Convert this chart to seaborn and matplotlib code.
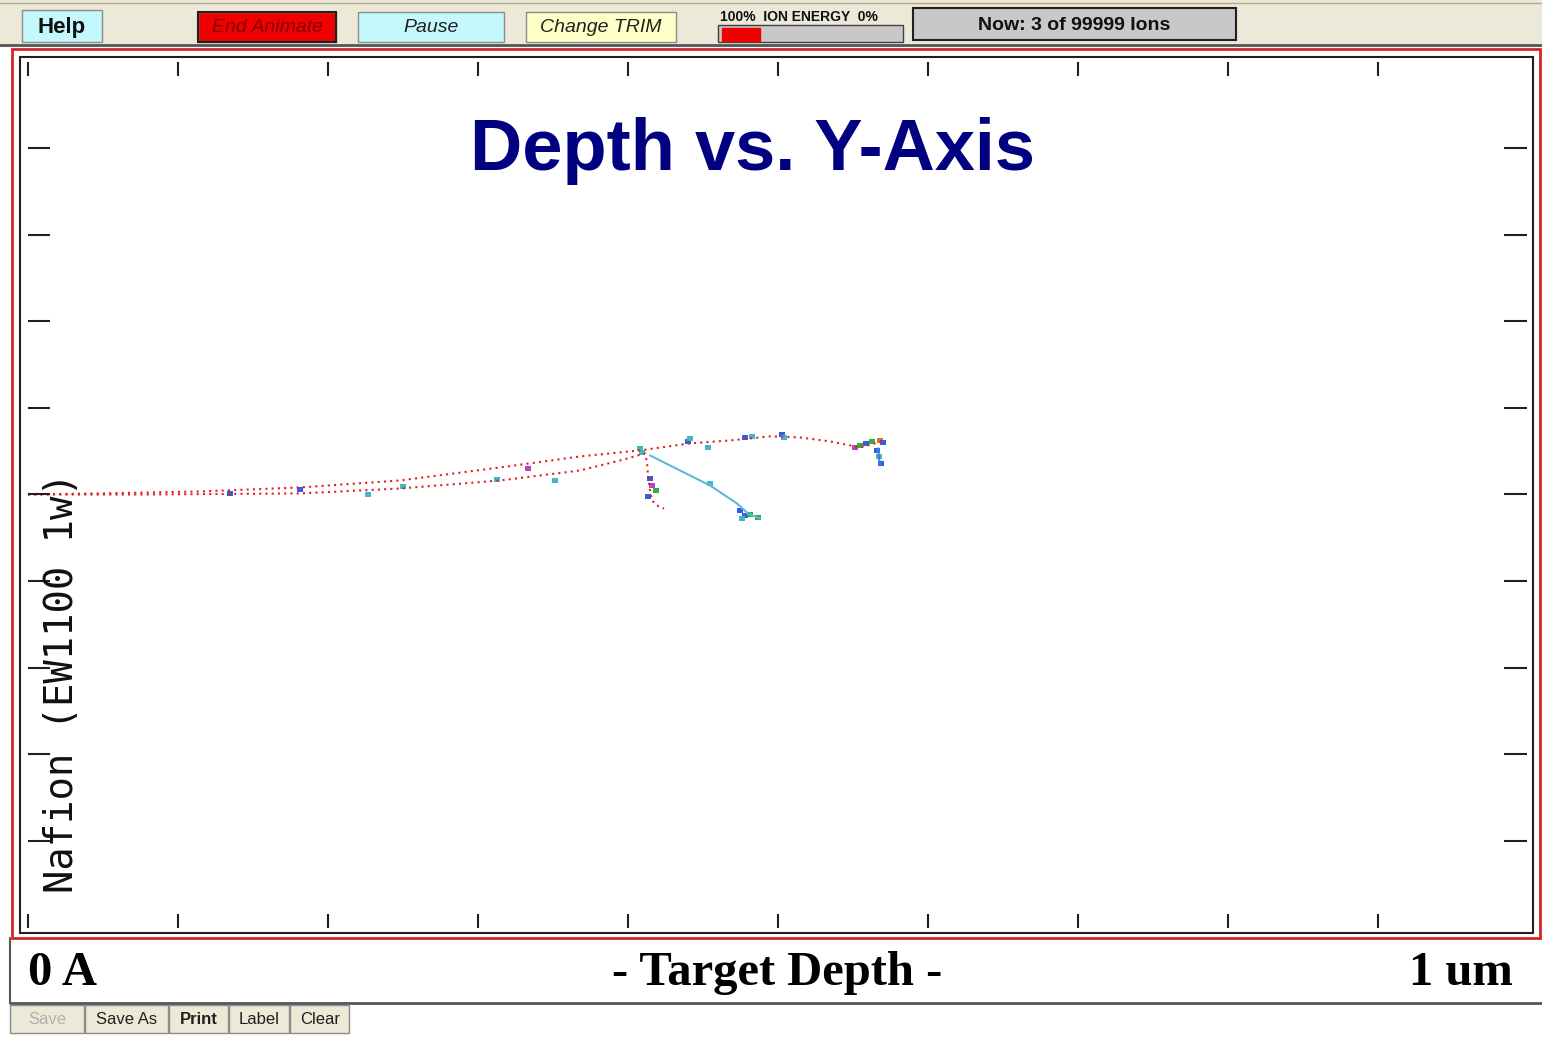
import matplotlib.pyplot as plt
import seaborn as sns
import pandas as pd
from matplotlib.patches import Rectangle

# ion paths (depth in nm, lateral position in nm)
ion1_depth = [0, 48, 114.7, 181.3, 248, 314.7, 368, 408, 441.3, 468, 494.7, 514.7, 534.7, 554.7, 564.7, 571.3]
ion1_y = [0, 1.2, 3.5, 8.1, 16.2, 31.2, 43.9, 50.9, 59, 62.4, 67.1, 65.9, 61.3, 54.3, 59, 62.4]

ion2_depth = [0, 81.3, 181.3, 248, 314.7, 368, 394.7, 411.3, 412.7, 413.3, 414.7, 416, 419.3, 424]
ion2_y = [0, 0, 1.2, 6.9, 16.2, 27.7, 39.3, 47.4, 37, 22, 4.6, -6.9, -12.7, -16.2]

recoil_depth = [414.7, 434.7, 454.7, 472.7, 480, 488]
recoil_y = [45.1, 27.7, 10.4, -10.4, -22, -27.7]

recoil2_depth = [566.7, 567.3, 568]
recoil2_y = [53.2, 43, 33.5]

# small recoil cascades
cascade_depth = [408, 409.3, 440, 441.3, 453.3, 478, 482.7, 502.7, 504, 551.3, 554.7, 558.7,
                 562.7, 568, 570, 566, 567.3, 568.7, 414.7, 416, 418.7, 413.3, 474.7, 478,
                 481.3, 476, 486.7, 454.7, 181.3, 226.7, 250, 312.7, 351.3, 134.7, 333.3]
cascade_y = [53.2, 48.6, 61.3, 64.7, 54.3, 65.9, 67.1, 69.4, 65.9, 54.3, 56.6, 59,
             61.3, 62.4, 60.1, 50.9, 43.9, 35.8, 18.5, 10.4, 4.6, -2.3, -18.5, -24.3,
             -23.1, -27.7, -26.6, 12.7, 5.8, 0, 9.2, 17.3, 16.2, 1.2, 30]
cascade_kind = ['cyan', 'cyan', 'blue', 'cyan', 'cyan', 'blue', 'cyan', 'blue', 'cyan', 'magenta', 'green', 'blue',
                'green', 'orange', 'blue', 'blue', 'cyan', 'blue', 'blue', 'magenta', 'green', 'blue', 'blue', 'blue',
                'green', 'cyan', 'green', 'cyan', 'blue', 'cyan', 'cyan', 'cyan', 'cyan', 'blue', 'magenta']

depth_ticks = list(range(0, 1000, 100))
lateral_ticks = list(range(-400, 500, 100))

buttons_top = ['Help', 'End Animate', 'Pause', 'Change TRIM']
buttons_bottom = ['Save', 'Save As', 'Print', 'Label', 'Clear']

sns.set_theme(style='white')
plt.rcParams['font.family'] = ['Liberation Sans', 'DejaVu Sans']

W, H = 1542, 1038
fig = plt.figure(figsize=(W / 100, H / 100), dpi=100)
fig.patch.set_facecolor('white')


def box(x0, y0, x1, y1):
    return [x0 / W, 1 - y1 / H, (x1 - x0) / W, (y1 - y0) / H]


# window chrome in pixel coordinates
ui = fig.add_axes([0, 0, 1, 1], zorder=-1)
ui.set_xlim(0, W)
ui.set_ylim(H, 0)
ui.axis('off')

beige = '#ECE9D8'
ui.add_patch(Rectangle((0, 0), W, 46, color=beige))
ui.plot([0, W], [45, 45], color='#555555', lw=2)
ui.plot([0, W], [3, 3], color='#B0A890', lw=1)

top_boxes = [(22, 10, 102, 42, '#C4F8FC', 'bold', 'normal', '#101010', 16),
             (198, 12, 336, 42, '#F00000', 'normal', 'italic', '#800000', 14),
             (358, 12, 504, 42, '#C4F8FC', 'normal', 'italic', '#202020', 14),
             (526, 12, 676, 42, '#FFFFC8', 'normal', 'italic', '#202020', 14)]
for (x0, y0, x1, y1, fc, fw, fst, tc, fs), label in zip(top_boxes, buttons_top):
    ui.add_patch(Rectangle((x0, y0), x1 - x0, y1 - y0, facecolor=fc, edgecolor='#8C8C8C', lw=1))
    ui.text((x0 + x1) / 2, (y0 + y1) / 2 + 1, label, ha='center', va='center',
            fontsize=fs, fontweight=fw, fontstyle=fst, color=tc)
ui.add_patch(Rectangle((198, 12), 138, 30, facecolor='none', edgecolor='#202020', lw=1.5))

# ion energy gauge
ui.text(720, 17, '100%  ION ENERGY  0%', ha='left', va='center', fontsize=10, fontweight='bold', color='#101010')
ui.add_patch(Rectangle((718, 25), 185, 17, facecolor='#C8C8C8', edgecolor='#404040', lw=1))
ui.add_patch(Rectangle((722, 28), 38, 13, color='#F00000'))

# ion counter
ui.add_patch(Rectangle((913, 8), 323, 32, facecolor='#C8C8C8', edgecolor='#202020', lw=1.5))
ui.text(1074, 25, 'Now: 3 of 99999 Ions', ha='center', va='center', fontsize=14, fontweight='bold', color='#101010')

# red frame around the plot
ui.add_patch(Rectangle((12, 49), 1528, 889, facecolor='white', edgecolor='#D02828', lw=2))
ui.plot([10, 10], [938, 1003], color='#555555', lw=1.5)
ui.plot([10, W], [1003, 1003], color='#555555', lw=2)

# axis end labels
serif = dict(fontsize=35, fontweight='bold', family='Liberation Serif', color='black', va='center')
ui.text(28, 973, '0 A', ha='left', **serif)
ui.text(777, 973, '- Target Depth -', ha='center', **serif)
ui.text(1513, 973, '1 um', ha='right', **serif)

# bottom button row
ui.add_patch(Rectangle((0, 1004), W, 34, color='white'))
bx = [10, 85, 169, 229, 290, 350]
for i, label in enumerate(buttons_bottom):
    ui.add_patch(Rectangle((bx[i], 1005), bx[i + 1] - bx[i] - 1, 28, facecolor=beige, edgecolor='#8C8C8C', lw=1))
    ui.text((bx[i] + bx[i + 1]) / 2, 1019, label, ha='center', va='center', fontsize=12,
            fontweight='bold' if label == 'Print' else 'normal',
            color='#B0B0B0' if label == 'Save' else '#202020')

# main plot
ax = fig.add_axes(box(20, 57, 1533, 933))
ax.set_facecolor('white')
red = '#E02020'
sns.lineplot(x=ion1_depth, y=ion1_y, sort=False, estimator=None, color=red, lw=1.5,
             linestyle=(0, (1, 2)), ax=ax)
sns.lineplot(x=ion2_depth, y=ion2_y, sort=False, estimator=None, color=red, lw=1.5,
             linestyle=(0, (1, 2)), ax=ax)
sns.lineplot(x=recoil_depth, y=recoil_y, sort=False, estimator=None, color='#60B8D8', lw=1.5, ax=ax)
sns.lineplot(x=recoil2_depth, y=recoil2_y, sort=False, estimator=None, color='#4080E0', lw=1.5, ax=ax)

cascades = pd.DataFrame({'depth': cascade_depth, 'y': cascade_y, 'kind': cascade_kind})
palette = {'blue': '#3060E0', 'cyan': '#40B8C8', 'green': '#30B040', 'magenta': '#C040C0', 'orange': '#E07030'}
sns.scatterplot(data=cascades, x='depth', y='y', hue='kind', palette=palette, marker='s', s=14,
                linewidth=0, legend=False, ax=ax)

ax.set_xlim(-5.3, 1003.3)
ax.set_ylim(-506.4, 505.2)
ax.set_xticks([])
ax.set_yticks([])
ax.set_xlabel('')
ax.set_ylabel('')
for sp in ax.spines.values():
    sp.set_visible(True)
    sp.set_color('#202020')
    sp.set_linewidth(1.5)

tick_kw = dict(color='#202020', lw=1.5)
ax.vlines(depth_ticks, 0.9783, 0.9943, transform=ax.get_xaxis_transform(), **tick_kw)
ax.vlines(depth_ticks, 0.0057, 0.0217, transform=ax.get_xaxis_transform(), **tick_kw)
ax.hlines(lateral_ticks, 0.0053, 0.0198, transform=ax.get_yaxis_transform(), **tick_kw)
ax.hlines(lateral_ticks, 0.9808, 0.996, transform=ax.get_yaxis_transform(), **tick_kw)

fig.text(753 / W, 1 - 170 / H, 'Depth vs. Y-Axis', ha='center', va='baseline',
         fontsize=52, fontweight='bold', color='#000080', zorder=5)

fig.text(62 / W, 1 - 683 / H, 'Nafion (EW1100 1w)', rotation=90, ha='center', va='center',
         fontsize=28, family='DejaVu Sans Mono', color='#101010', zorder=5)

fig.savefig('out.png', dpi=100)
